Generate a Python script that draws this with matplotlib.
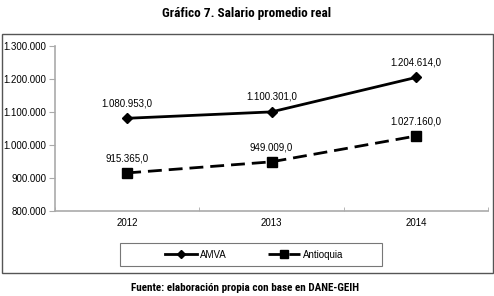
import matplotlib
matplotlib.use("Agg")
import matplotlib.pyplot as plt
from matplotlib.patches import Rectangle
from matplotlib.ticker import FuncFormatter

years = ["2012", "2013", "2014"]
amva = [1080953.0, 1100301.0, 1204614.0]
antioquia = [915365.0, 949009.0, 1027160.0]
y_ticks = [800000, 900000, 1000000, 1100000, 1200000, 1300000]

W, H = 494, 296
fig = plt.figure(figsize=(W/100, H/100), dpi=100)
plt.rcParams['font.family'] = ['Liberation Sans', 'DejaVu Sans']

def fx(px):
    return px / W
def fy(py):
    return 1 - py / H

ax = fig.add_axes([fx(55), fy(211), fx(488) - fx(55), fy(46) - fy(211)])

x = list(range(len(years)))
ax.plot(x, amva, color='black', lw=2, marker='D', ms=5.5, label='AMVA', zorder=3)
ax.plot(x, antioquia, color='black', lw=2, ls=(0, (5, 2.5)), marker='s', ms=7,
        label='Antioquia', zorder=3)

def fmt_thousands(v):
    return f"{int(round(v)):,}".replace(",", ".")

for xi, v in zip(x, amva):
    ax.annotate(fmt_thousands(v) + ",0", (xi, v), xytext=(0, 11), textcoords='offset points',
                ha='center', va='center', fontsize=7)
for xi, v in zip(x, antioquia):
    ax.annotate(fmt_thousands(v) + ",0", (xi, v), xytext=(0, 10.5), textcoords='offset points',
                ha='center', va='center', fontsize=7)

ax.set_xlim(-0.5, 2.5)
ax.set_ylim(800000, 1300000)
ax.set_yticks(y_ticks)
ax.yaxis.set_major_formatter(FuncFormatter(lambda v, p: fmt_thousands(v)))
ax.set_xticks(x)
ax.set_xticklabels(years)
ax.set_xticks([-0.5, 0.5, 1.5, 2.5], minor=True)
ax.tick_params(axis='x', which='major', length=0, labelsize=7, pad=5)
ax.tick_params(axis='x', which='minor', length=3, color='#aaaaaa', direction='in')
ax.tick_params(axis='y', length=4, color='#aaaaaa', labelsize=7, pad=2)
for s in ['top', 'right']:
    ax.spines[s].set_visible(False)
for s in ['left', 'bottom']:
    ax.spines[s].set_color('#aaaaaa')
    ax.spines[s].set_linewidth(1.2)
ax.patch.set_alpha(0)

# outer chart box
fig.patches.append(Rectangle((fx(2), fy(273)), fx(493) - fx(2), fy(34) - fy(273),
                             transform=fig.transFigure, fill=False, edgecolor='#555555', lw=1))
# legend box
fig.patches.append(Rectangle((fx(120), fy(266)), fx(382) - fx(120), fy(243) - fy(266),
                             transform=fig.transFigure, fill=False, edgecolor='#777777', lw=0.8))
fig.legend(loc='center', bbox_to_anchor=(fx(254), fy(254.5)), ncol=2, frameon=False,
           fontsize=7, handlelength=3.3, columnspacing=4.2, handletextpad=0.3,
           markerscale=0.8)

fig.text(0.5, fy(14), "Gráfico 7. Salario promedio real", ha='center', va='center',
         fontsize=9.5, fontweight='bold', family=['Roboto Condensed', 'DejaVu Sans'])
fig.text(0.497, fy(288), "Fuente: elaboración propia con base en DANE-GEIH", ha='center', va='center',
         fontsize=8, fontweight='bold', family=['Roboto Condensed', 'DejaVu Sans'])

fig.savefig("out.png", dpi=100)
